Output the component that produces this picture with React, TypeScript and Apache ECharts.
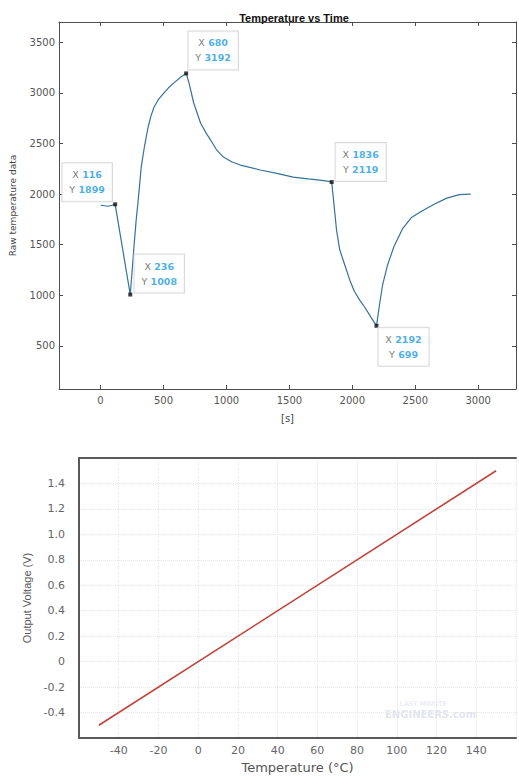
import React, { useEffect, useRef } from 'react';
import * as echarts from 'echarts';

// Top chart: raw temperature data over time
const timeS = [0, 30, 60, 90, 116, 236, 252, 268, 283, 300, 323, 350, 378, 400, 425, 460, 504, 540, 583, 640, 680, 700, 740, 795, 840, 874, 920, 976, 1040, 1110, 1268, 1400, 1530, 1650, 1740, 1800, 1836, 1850, 1874, 1900, 1940, 1980, 2016, 2060, 2100, 2150, 2192, 2215, 2240, 2280, 2330, 2400, 2470, 2550, 2650, 2750, 2850, 2940];
const rawData = [1890, 1885, 1880, 1890, 1899, 1008, 1260, 1520, 1743, 1950, 2267, 2480, 2663, 2770, 2861, 2935, 3000, 3050, 3099, 3160, 3192, 3110, 2900, 2700, 2600, 2535, 2440, 2366, 2320, 2287, 2238, 2205, 2168, 2150, 2139, 2128, 2119, 1950, 1650, 1450, 1300, 1150, 1040, 950, 880, 780, 699, 900, 1100, 1300, 1480, 1660, 1770, 1830, 1900, 1960, 1995, 2000];

// Data tips
const tipX = [116, 236, 680, 1836, 2192];
const tipY = [1899, 1008, 3192, 2119, 699];
const tipOffsets = [[-28, -22], [29, -21], [27, -23], [29, -20], [27, 21]];

// Bottom chart: output voltage vs temperature
const tempC = [-50, 150];
const voltV = [-0.5, 1.5];

const FONT = "'DejaVu Sans', sans-serif";
const AX = '#4d4d4d';

export default function App() {
  const ref = useRef<HTMLDivElement>(null);
  useEffect(() => {
    const chart = echarts.init(ref.current!, null, { renderer: 'svg' });
    const topAxisBase = {
      gridIndex: 0,
      axisLine: { show: true, onZero: false, lineStyle: { color: AX, width: 1 } },
      axisTick: { show: true, inside: true, length: 4, lineStyle: { color: AX } },
      splitLine: { show: false },
    };
    const hide500 = (v: number) => (Math.abs(v % 500) < 1e-6 ? String(v) : '');
    const bottomLine = { show: true, onZero: false, lineStyle: { color: '#5a5a5a', width: 2 } };
    const option: any = {
      animation: false,
      backgroundColor: '#fff',
      title: {
        text: 'Temperature vs Time',
        left: 289,
        top: 7,
        textAlign: 'center',
        textStyle: { fontSize: 11, fontWeight: 'bold', color: '#111', fontFamily: "'Liberation Sans', Arial, sans-serif" },
      },
      grid: [
        { left: 57, top: 22, right: -2, height: 367 },
        { left: 79, top: 458, right: -14, height: 280 },
      ],
      xAxis: [
        {
          ...topAxisBase,
          type: 'value',
          position: 'bottom',
          min: -330,
          max: 3300,
          minInterval: 500,
          maxInterval: 500,
          splitNumber: 7,
          name: '[s]',
          nameLocation: 'middle',
          nameGap: 24,
          nameTextStyle: { fontSize: 10, color: '#444', fontFamily: FONT },
          axisLabel: { formatter: hide500, fontSize: 10, color: '#555', fontFamily: FONT, margin: 6 },
        },
        {
          ...topAxisBase,
          type: 'value',
          position: 'top',
          min: -330,
          max: 3300,
          minInterval: 500,
          maxInterval: 500,
          splitNumber: 7,
          axisLabel: { show: false },
        },
        {
          gridIndex: 1,
          type: 'value',
          position: 'bottom',
          min: -60,
          max: 160,
          interval: 20,
          axisLine: bottomLine,
          axisTick: { show: false },
          splitLine: { show: true, lineStyle: { color: '#e6e6e6', type: 'dotted' } },
          name: 'Temperature (°C)',
          nameLocation: 'middle',
          nameGap: 23,
          nameTextStyle: { fontSize: 13, color: '#555', fontFamily: FONT },
          axisLabel: {
            fontSize: 11,
            color: '#666',
            fontFamily: FONT,
            margin: 7,
            formatter: (v: number) => (v <= -60 || v >= 160 ? '' : String(v)),
          },
        },
        {
          gridIndex: 1,
          type: 'value',
          position: 'top',
          min: -60,
          max: 160,
          interval: 20,
          axisLine: bottomLine,
          axisTick: { show: false },
          axisLabel: { show: false },
          splitLine: { show: false },
        },
      ],
      yAxis: [
        {
          ...topAxisBase,
          type: 'value',
          position: 'left',
          min: 75,
          max: 3700,
          minInterval: 500,
          maxInterval: 500,
          splitNumber: 7,
          name: 'Raw temperature data',
          nameLocation: 'middle',
          nameGap: 42,
          nameTextStyle: { fontSize: 9, color: '#444', fontFamily: FONT },
          axisLabel: { formatter: hide500, fontSize: 10, color: '#555', fontFamily: FONT, margin: 4 },
        },
        {
          ...topAxisBase,
          type: 'value',
          position: 'right',
          min: 75,
          max: 3700,
          minInterval: 500,
          maxInterval: 500,
          splitNumber: 7,
          axisLabel: { show: false },
        },
        {
          gridIndex: 1,
          type: 'value',
          position: 'left',
          min: -0.6,
          max: 1.6,
          interval: 0.2,
          axisLine: bottomLine,
          axisTick: { show: false },
          splitLine: { show: true, lineStyle: { color: '#e6e6e6', type: 'dotted' } },
          name: 'Output Voltage (V)',
          nameLocation: 'middle',
          nameGap: 45,
          nameTextStyle: { fontSize: 11, color: '#555', fontFamily: "'Liberation Sans Narrow', 'Liberation Sans', sans-serif" },
          axisLabel: {
            fontSize: 11,
            color: '#666',
            fontFamily: FONT,
            margin: 14,
            formatter: (v: number) => {
              if (v < -0.55 || v > 1.55) return '';
              if (Math.abs(v) < 1e-9) return '0';
              return v.toFixed(1);
            },
          },
        },
      ],
      series: [
        {
          type: 'line',
          xAxisIndex: 0,
          yAxisIndex: 0,
          data: timeS.map((t, i) => [t, rawData[i]]),
          showSymbol: false,
          lineStyle: { color: '#35729a', width: 1.2 },
          z: 2,
        },
        {
          type: 'scatter',
          xAxisIndex: 0,
          yAxisIndex: 0,
          symbol: 'rect',
          symbolSize: 4,
          itemStyle: { color: '#111' },
          z: 5,
          data: tipX.map((x, i) => ({ value: [x, tipY[i]], label: { offset: tipOffsets[i] } })),
          label: {
            show: true,
            position: 'inside',
            align: 'center',
            verticalAlign: 'middle',
            backgroundColor: '#fff',
            borderColor: '#cfcfcf',
            borderWidth: 1,
            padding: [4, 7],
            lineHeight: 15,
            formatter: (p: any) => `{l|X} {v|${p.value[0]}}\n{l|Y} {v|${p.value[1]}}`,
            rich: {
              l: { fontSize: 9.5, color: '#555', fontFamily: FONT, lineHeight: 15 },
              v: { fontSize: 9.5, color: '#1b9be0', fontFamily: FONT, lineHeight: 15, fontWeight: 'bold' },
            },
          },
        },
        {
          type: 'line',
          xAxisIndex: 2,
          yAxisIndex: 2,
          data: tempC.map((t, i) => [t, voltV[i]]),
          showSymbol: false,
          lineStyle: { color: '#c0443a', width: 1.6 },
        },
      ],
      graphic: [
        { type: 'text', left: 400, top: 700, style: { text: 'LAST MINUTE', fontSize: 7, fill: '#e3e6ee', fontFamily: FONT } },
        { type: 'text', left: 385, top: 709, style: { text: 'ENGINEERS.com', fontSize: 10, fill: '#e3e6ee', fontFamily: FONT, fontWeight: 'bold' } },
      ],
    };
    chart.setOption(option);
    return () => chart.dispose();
  }, []);
  return <div ref={ref} style={{ position: 'absolute', left: 0, top: 0, width: 519, height: 778, background: '#fff' }} />;
}
